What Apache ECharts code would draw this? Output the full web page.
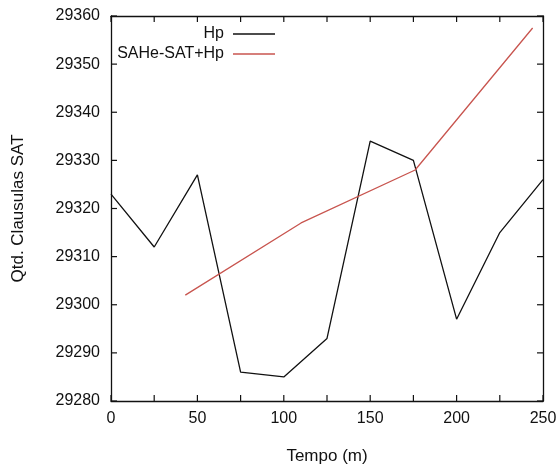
<!DOCTYPE html>
<html>
<head>
<meta charset="utf-8">
<script src="https://cdn.jsdelivr.net/npm/echarts@6/dist/echarts.min.js"></script>
<style>
  html, body { margin: 0; padding: 0; background: #fff; }
  #chart { width: 560px; height: 470px; }
</style>
</head>
<body>
<div id="chart"></div>
<script>
const timeHp = [0, 25, 50, 75, 100, 125, 150, 175, 200, 225, 250]
const valuesHp = [29323, 29312, 29327, 29286, 29285, 29293, 29334, 29330, 29297, 29315, 29326]
const timeSahe = [43, 110, 176, 244]
const valuesSahe = [29302, 29317, 29328, 29357.5]
const xTicks = [0, 50, 100, 150, 200, 250]
const xMinorTicks = [0, 25, 50, 75, 100, 125, 150, 175, 200, 225, 250]
const yTicks = [29280, 29290, 29300, 29310, 29320, 29330, 29340, 29350, 29360]

const font = 'Liberation Sans, Arial, sans-serif'
const axisColor = '#111'
const tickLen = 6

const xMin = 0
const xMax = 250
const yMin = yTicks[0]
const yMax = yTicks[yTicks.length - 1]

const pairs = (xs, ys) => xs.map((x, i) => [x, ys[i]])

const baseX = { type: 'value', min: xMin, max: xMax, interval: 25, splitLine: { show: false } }
const baseY = { type: 'value', min: yMin, max: yMax, interval: 10, scale: true, splitLine: { show: false } }

// frame axis: line only on that side
const frame = pos => ({
  position: pos,
  axisLine: { show: true, onZero: false, lineStyle: { color: axisColor, width: 1.3 } },
  axisTick: { show: false },
  axisLabel: { show: false }
})

const tickLine = (a, b) => ({
  type: 'line',
  shape: { x1: a[0], y1: a[1], x2: b[0], y2: b[1] },
  style: { stroke: axisColor, lineWidth: 1.2 }
})

// inward ticks on all four sides, placed through the axes' scales
const renderXTick = (params, api) => {
  const lo = api.coord([api.value(0), yMin])
  const hi = api.coord([api.value(0), yMax])
  return {
    type: 'group',
    children: [
      tickLine(lo, [lo[0], lo[1] - tickLen]),
      tickLine(hi, [hi[0], hi[1] + tickLen])
    ]
  }
}
const renderYTick = (params, api) => {
  const lo = api.coord([xMin, api.value(1)])
  const hi = api.coord([xMax, api.value(1)])
  return {
    type: 'group',
    children: [
      tickLine(lo, [lo[0] + tickLen, lo[1]]),
      tickLine(hi, [hi[0] - tickLen, hi[1]])
    ]
  }
}

const legendText = { fontFamily: font, fontSize: 16, color: '#111', padding: [0, 4, 0, 0] }

const chart = echarts.init(document.getElementById('chart'), null, { renderer: 'canvas' })
chart.setOption({
  animation: false,
  textStyle: { fontFamily: font },
  grid: { left: 111, right: 17, top: 16, bottom: 68, containLabel: false },
  legend: [
    {
      data: ['Hp'],
      right: 280,
      top: 21,
      align: 'right',
      icon: 'rect',
      itemWidth: 42,
      itemHeight: 1.5,
      textStyle: legendText
    },
    {
      data: ['SAHe-SAT+Hp'],
      right: 280,
      top: 41,
      align: 'right',
      icon: 'rect',
      itemWidth: 42,
      itemHeight: 1.5,
      textStyle: legendText
    }
  ],
  xAxis: [
    Object.assign({}, baseX, frame('bottom'), {
      name: 'Tempo (m)',
      nameLocation: 'middle',
      nameGap: 47,
      nameTextStyle: { fontFamily: font, fontSize: 17, color: '#111' },
      axisLabel: {
        show: true,
        fontFamily: font,
        fontSize: 16,
        color: '#111',
        margin: 10,
        formatter: v => (xTicks.indexOf(v) >= 0 ? String(v) : '')
      }
    }),
    Object.assign({}, baseX, frame('top'))
  ],
  yAxis: [
    Object.assign({}, baseY, frame('left'), {
      name: 'Qtd. Clausulas SAT',
      nameLocation: 'middle',
      nameGap: 84,
      nameTextStyle: { fontFamily: font, fontSize: 17, color: '#111' },
      axisLabel: { show: true, fontFamily: font, fontSize: 16, color: '#111', margin: 11, formatter: v => String(v) }
    }),
    Object.assign({}, baseY, frame('right'))
  ],
  series: [
    {
      name: 'Hp',
      type: 'line',
      data: pairs(timeHp, valuesHp),
      symbol: 'none',
      lineStyle: { color: '#111', width: 1.3 },
      itemStyle: { color: '#111' }
    },
    {
      name: 'SAHe-SAT+Hp',
      type: 'line',
      data: pairs(timeSahe, valuesSahe),
      symbol: 'none',
      lineStyle: { color: '#c8554f', width: 1.3 },
      itemStyle: { color: '#c8554f' }
    },
    {
      name: 'xTicks',
      type: 'custom',
      silent: true,
      clip: false,
      data: xMinorTicks.map(v => [v, yMin]),
      renderItem: renderXTick
    },
    {
      name: 'yTicks',
      type: 'custom',
      silent: true,
      clip: false,
      data: yTicks.map(v => [xMin, v]),
      renderItem: renderYTick
    }
  ]
})
</script>
</body>
</html>
